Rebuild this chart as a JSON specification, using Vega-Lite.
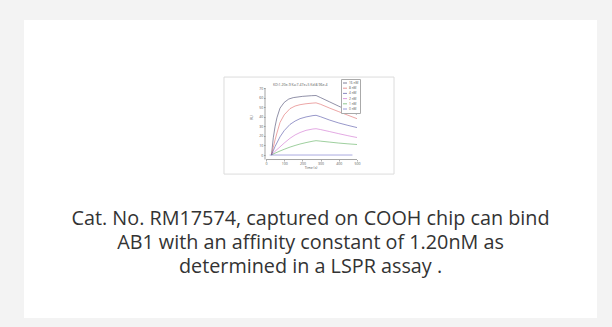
{
  "$schema": "https://vega.github.io/schema/vega-lite/v6.json",
  "width": 573,
  "height": 298,
  "autosize": {"type": "none"},
  "padding": {"left": 24, "top": 20, "right": 15, "bottom": 9},
  "background": "#f3f3f3",
  "config": {
    "view": {"fill": "#ffffff", "stroke": null},
    "font": "Open Sans"
  },
  "data": {
    "values": [
      {"conc": "16 nM", "t": 30, "ru": 0}, {"conc": "16 nM", "t": 40, "ru": 18}, {"conc": "16 nM", "t": 50, "ru": 30},
      {"conc": "16 nM", "t": 60, "ru": 39}, {"conc": "16 nM", "t": 77, "ru": 49}, {"conc": "16 nM", "t": 100, "ru": 55},
      {"conc": "16 nM", "t": 125, "ru": 58.5}, {"conc": "16 nM", "t": 150, "ru": 60}, {"conc": "16 nM", "t": 200, "ru": 61.3},
      {"conc": "16 nM", "t": 250, "ru": 62}, {"conc": "16 nM", "t": 275, "ru": 62.2}, {"conc": "16 nM", "t": 300, "ru": 60},
      {"conc": "16 nM", "t": 350, "ru": 55.5}, {"conc": "16 nM", "t": 400, "ru": 51}, {"conc": "16 nM", "t": 450, "ru": 46.7},
      {"conc": "16 nM", "t": 500, "ru": 42.6},
      {"conc": "8 nM", "t": 30, "ru": 0}, {"conc": "8 nM", "t": 40, "ru": 8}, {"conc": "8 nM", "t": 50, "ru": 16},
      {"conc": "8 nM", "t": 60, "ru": 23}, {"conc": "8 nM", "t": 77, "ru": 34}, {"conc": "8 nM", "t": 100, "ru": 42},
      {"conc": "8 nM", "t": 132, "ru": 48.5}, {"conc": "8 nM", "t": 160, "ru": 51.2}, {"conc": "8 nM", "t": 187, "ru": 52.6},
      {"conc": "8 nM", "t": 220, "ru": 53.6}, {"conc": "8 nM", "t": 258, "ru": 54.3}, {"conc": "8 nM", "t": 275, "ru": 54.5},
      {"conc": "8 nM", "t": 300, "ru": 53}, {"conc": "8 nM", "t": 350, "ru": 49}, {"conc": "8 nM", "t": 400, "ru": 45.3},
      {"conc": "8 nM", "t": 450, "ru": 41.6}, {"conc": "8 nM", "t": 500, "ru": 38},
      {"conc": "4 nM", "t": 30, "ru": 0}, {"conc": "4 nM", "t": 50, "ru": 9}, {"conc": "4 nM", "t": 77, "ru": 19},
      {"conc": "4 nM", "t": 100, "ru": 25.5}, {"conc": "4 nM", "t": 132, "ru": 32}, {"conc": "4 nM", "t": 160, "ru": 35.5},
      {"conc": "4 nM", "t": 187, "ru": 38}, {"conc": "4 nM", "t": 220, "ru": 39.8}, {"conc": "4 nM", "t": 258, "ru": 41.2},
      {"conc": "4 nM", "t": 275, "ru": 41.5}, {"conc": "4 nM", "t": 300, "ru": 40}, {"conc": "4 nM", "t": 350, "ru": 36.5},
      {"conc": "4 nM", "t": 400, "ru": 33.5}, {"conc": "4 nM", "t": 450, "ru": 31}, {"conc": "4 nM", "t": 500, "ru": 28.7},
      {"conc": "2 nM", "t": 30, "ru": 0}, {"conc": "2 nM", "t": 50, "ru": 4}, {"conc": "2 nM", "t": 77, "ru": 8.5},
      {"conc": "2 nM", "t": 100, "ru": 12.5}, {"conc": "2 nM", "t": 132, "ru": 17.5}, {"conc": "2 nM", "t": 160, "ru": 21},
      {"conc": "2 nM", "t": 187, "ru": 23.5}, {"conc": "2 nM", "t": 220, "ru": 25.8}, {"conc": "2 nM", "t": 258, "ru": 27.2},
      {"conc": "2 nM", "t": 275, "ru": 27.5}, {"conc": "2 nM", "t": 300, "ru": 26.6}, {"conc": "2 nM", "t": 350, "ru": 24.5},
      {"conc": "2 nM", "t": 400, "ru": 22.3}, {"conc": "2 nM", "t": 450, "ru": 20.2}, {"conc": "2 nM", "t": 500, "ru": 18.3},
      {"conc": "1 nM", "t": 30, "ru": 0}, {"conc": "1 nM", "t": 50, "ru": 2}, {"conc": "1 nM", "t": 77, "ru": 4.2},
      {"conc": "1 nM", "t": 100, "ru": 6}, {"conc": "1 nM", "t": 132, "ru": 8.3}, {"conc": "1 nM", "t": 160, "ru": 10},
      {"conc": "1 nM", "t": 187, "ru": 11.5}, {"conc": "1 nM", "t": 220, "ru": 13}, {"conc": "1 nM", "t": 258, "ru": 14.5},
      {"conc": "1 nM", "t": 275, "ru": 15}, {"conc": "1 nM", "t": 300, "ru": 14.5}, {"conc": "1 nM", "t": 350, "ru": 13.5},
      {"conc": "1 nM", "t": 400, "ru": 12.5}, {"conc": "1 nM", "t": 450, "ru": 11.7}, {"conc": "1 nM", "t": 500, "ru": 11},
      {"conc": "0 nM", "t": 20, "ru": 0}, {"conc": "0 nM", "t": 475, "ru": 0}
    ]
  },
  "layer": [
    {
      "data": {"values": [{}]},
      "mark": {"type": "rect", "fill": "#ffffff", "stroke": "#dcdcdc", "strokeWidth": 1},
      "encoding": {
        "x": {"datum": -230.8, "type": "quantitative", "scale": {"domain": [-1329.7, 1818.7], "nice": false, "zero": false}},
        "x2": {"datum": 703.3},
        "y": {"datum": 81.5, "type": "quantitative", "scale": {"domain": [-170.3, 141.1], "nice": false, "zero": false}},
        "y2": {"datum": -19.9}
      }
    },
    {
      "data": {"values": [{}]},
      "mark": {"type": "rule", "color": "#666666", "strokeWidth": 0.6},
      "encoding": {
        "x": {"datum": 0, "type": "quantitative"},
        "x2": {"datum": 500},
        "y": {"datum": -4.7, "type": "quantitative"}
      }
    },
    {
      "data": {"values": [{}]},
      "mark": {"type": "rule", "color": "#666666", "strokeWidth": 0.6},
      "encoding": {
        "x": {"datum": -5.5, "type": "quantitative"},
        "y": {"datum": -4.7, "type": "quantitative"},
        "y2": {"datum": 70}
      }
    },
    {
      "mark": {"type": "line", "strokeWidth": 0.7, "opacity": 0.8},
      "encoding": {
        "x": {
          "field": "t", "type": "quantitative",
          "axis": {
            "orient": "bottom", "offset": -158.5, "values": [0, 100, 200, 300, 400, 500],
            "domain": false, "grid": false, "tickSize": 1.5, "tickWidth": 0.5, "tickColor": "#666666",
            "labelFontSize": 3.5, "labelPadding": 0.5, "labelColor": "#555555", "labelFlush": false, "labelOverlap": false,
            "title": "Time (s)", "titleFontSize": 3.5, "titleFontWeight": "normal", "titlePadding": 0.5, "titleColor": "#555555",
            "zindex": 1
          }
        },
        "y": {
          "field": "ru", "type": "quantitative",
          "axis": {
            "orient": "left", "offset": -241, "values": [0, 10, 20, 30, 40, 50, 60, 70],
            "domain": false, "grid": false, "tickSize": 1.5, "tickWidth": 0.5, "tickColor": "#666666",
            "labelFontSize": 3.5, "labelPadding": 0.8, "labelColor": "#555555", "labelFlush": false, "labelOverlap": false,
            "title": "RU", "titleFontSize": 3.5, "titleFontWeight": "normal", "titleColor": "#555555",
            "titleX": -12, "titleY": 97,
            "zindex": 1
          }
        },
        "color": {
          "field": "conc", "type": "nominal",
          "scale": {
            "domain": ["16 nM", "8 nM", "4 nM", "2 nM", "1 nM", "0 nM"],
            "range": ["#3a3a62", "#dd6060", "#4646a0", "#cc66cc", "#50a850", "#6464c8"]
          },
          "legend": {
            "orient": "none", "legendX": 317, "legendY": 59, "title": null,
            "symbolType": "stroke", "symbolSize": 16, "symbolStrokeWidth": 0.8,
            "labelFontSize": 3.2, "labelOffset": 1.5, "labelColor": "#555555",
            "rowPadding": 0.2, "padding": 1.5, "strokeColor": "#aaaaaa", "fillColor": "#ffffff"
          }
        }
      }
    },
    {
      "data": {"values": [{}]},
      "mark": {"type": "text", "text": "KD:1.20e-9 Ka:7.47e+5 Kd:8.96e-4", "fontSize": 3.5, "align": "left", "baseline": "middle", "color": "#555555"},
      "encoding": {
        "x": {"datum": 38.5, "type": "quantitative"},
        "y": {"datum": 73.1, "type": "quantitative"}
      }
    },
    {
      "data": {"values": [{}]},
      "mark": {
        "type": "text",
        "text": ["Cat. No. RM17574, captured on COOH chip can bind", "AB1 with an affinity constant of 1.20nM as", "determined in a LSPR assay ."],
        "fontSize": 19.8, "lineHeight": 24, "align": "center", "baseline": "alphabetic", "color": "#333333", "font": "Open Sans"
      },
      "encoding": {
        "x": {"datum": 244.5, "type": "quantitative"},
        "y": {"datum": -72.7, "type": "quantitative"}
      }
    }
  ]
}
